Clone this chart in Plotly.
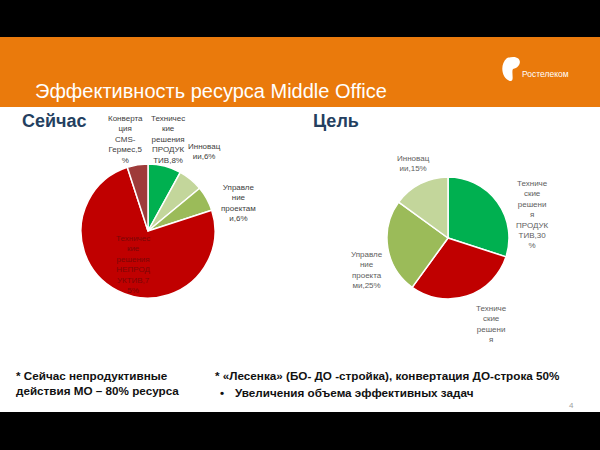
import plotly.graph_objects as go

# "Сейчас" (now) pie, clockwise from 12 o'clock
now_labels = ["Технические решения ПРОДУКТИВ", "Инновации", "Управление проектами",
              "Технические решения НЕПРОДУКТИВ", "Конвертация CMS-Гермес"]
now_values = [8, 6, 6, 75, 5]
now_colors = ["#00B050", "#C3D69B", "#9BBB59", "#C00000", "#9E3B3A"]
# wrapped label text as it appears on the slide
now_text = [
    ["Техничес", "кие", "решения", "ПРОДУК", "ТИВ,8%"],
    ["Инновац", "ии,6%"],
    ["Управле", "ние", "проектам", "и,6%"],
    ["Техничес", "кие", "решения", "НЕПРОД", "УКТИВ,7", "5%"],
    ["Конверта", "ция", "CMS-", "Гермес,5", "%"],
]

# "Цель" (goal) pie
goal_labels = ["Технические решения ПРОДУКТИВ", "Технические решения НЕПРОДУКТИВ",
               "Управление проектами", "Инновации"]
goal_values = [30, 30, 25, 15]
goal_colors = ["#00B050", "#C00000", "#9BBB59", "#C3D69B"]
goal_text = [
    ["Техниче", "ские", "решени", "я", "ПРОДУК", "ТИВ,30", "%"],
    ["Техниче", "ские", "решени", "я"],
    ["Управле", "ние", "проекта", "ми,25%"],
    ["Инновац", "ии,15%"],
]

W, H = 600, 450
FONT = "Arial, Liberation Sans, sans-serif"


def px(x):
    return x / W


def py(y):
    return 1 - y / H


def dom(cx, cy, r):
    return dict(x=[px(cx - r), px(cx + r)], y=[py(cy + r), py(cy - r)])


fig = go.Figure()
fig.add_trace(go.Pie(
    labels=now_labels, values=now_values, sort=False, direction="clockwise",
    marker=dict(colors=now_colors, line=dict(color="white", width=1.5)),
    textinfo="none", hoverinfo="label+percent", domain=dom(148, 231, 67),
    showlegend=False,
))
fig.add_trace(go.Pie(
    labels=goal_labels, values=goal_values, sort=False, direction="clockwise",
    marker=dict(colors=goal_colors, line=dict(color="white", width=1.5)),
    textinfo="none", hoverinfo="label+percent", domain=dom(448, 238, 61),
    showlegend=False,
))

shapes = [
    dict(type="rect", xref="paper", yref="paper", x0=0, x1=1, y0=py(37), y1=1,
         fillcolor="black", line_width=0, layer="below"),
    dict(type="rect", xref="paper", yref="paper", x0=0, x1=1, y0=py(107), y1=py(37),
         fillcolor="#EA7A0C", line_width=0, layer="below"),
    dict(type="rect", xref="paper", yref="paper", x0=0, x1=1, y0=0, y1=py(412),
         fillcolor="black", line_width=0, layer="below"),
    # logo mark
    dict(type="path", xref="paper", yref="paper",
         path="M %f %f C %f %f %f %f %f %f C %f %f %f %f %f %f C %f %f %f %f %f %f Z" % (
             px(507), py(58),
             px(499), py(65), px(502), py(79), px(510), py(81),
             px(515), py(82), px(511), py(72), px(513), py(69),
             px(523), py(67), px(523), py(53), px(507), py(58)),
         fillcolor="white", line_width=0),
]

ann = []


def label(lines, x, y, color="#404040", size=8):
    ann.append(dict(text="<br>".join(lines), x=px(x), y=py(y), xref="paper", yref="paper",
                    showarrow=False, xanchor="center", yanchor="top",
                    font=dict(family=FONT, size=size, color=color)))


# left pie labels: positions of each label block (top centre)
now_pos = [(168, 112), (204, 140), (238, 181), (133, 232), (125, 112)]
for lines, (x, y), c in zip(now_text, now_pos, ["#404040"] * 3 + ["#7A0606", "#404040"]):
    label(lines, x, y, c)

goal_pos = [(532, 177), (492, 302), (367, 248), (413, 152)]
for lines, (x, y) in zip(goal_text, goal_pos):
    label(lines, x, y, "#606060")


def text(t, x, y, size, color="black", bold=False, anchor="left"):
    if bold:
        t = "<b>" + t + "</b>"
    ann.append(dict(text=t, x=px(x), y=py(y), xref="paper", yref="paper", showarrow=False,
                    xanchor=anchor, yanchor="middle", align="left",
                    font=dict(family=FONT, size=size, color=color)))


text("Эффективность ресурса Middle Office", 33, 91, 20, "white")
text("Ростелеком", 520, 74, 8.5, "white")
text("Сейчас", 20, 121, 18, "#243F60", bold=True)
text("Цель", 311, 121, 18, "#243F60", bold=True)
text("* Сейчас непродуктивные", 14, 375, 11.7, "#111111", bold=True)
text("действия МО – 80% ресурса", 14, 390, 11.7, "#111111", bold=True)
text("* «Лесенка» (БО- ДО -стройка), конвертация ДО-строка 50%", 213, 375, 11.7, "#111111", bold=True)
text("•", 218, 392, 11.7, "#111111", bold=True)
text("Увеличения объема эффективных задач", 233, 392, 11.7, "#111111", bold=True)
text("4", 567, 405, 8, "#A0A0A0")

fig.update_layout(
    width=W, height=H, margin=dict(l=0, r=0, t=0, b=0),
    paper_bgcolor="white", plot_bgcolor="white",
    shapes=shapes, annotations=ann,
)

# drop the browser's default page margin so the slide fills the window
fig.write_html("out.html", config={"displayModeBar": False},
               post_script="document.body.style.margin='0';")
